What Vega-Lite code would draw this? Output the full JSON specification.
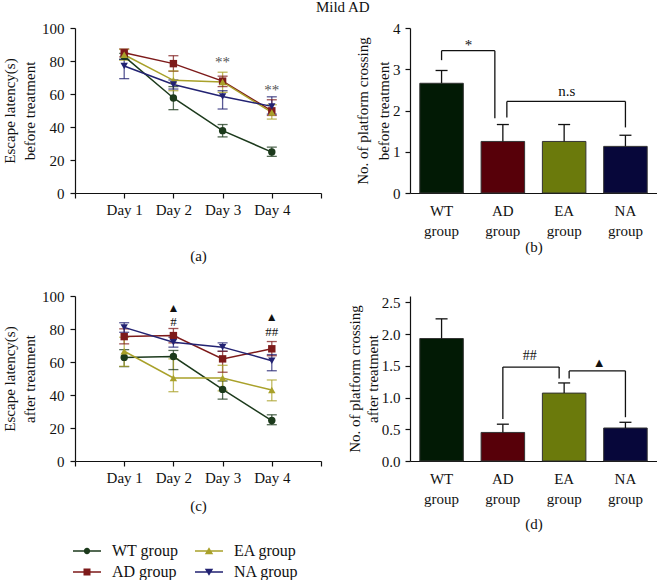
{
"$schema": "https://vega.github.io/schema/vega-lite/v6.json",
"padding": {"left": 2, "top": 0, "right": 0, "bottom": 0},
"title": {"text": "Mild AD", "fontSize": 15, "fontWeight": "normal", "font": "Liberation Serif", "color": "#111", "anchor": "middle", "frame": "bounds", "dx": 13, "offset": 6},
"datasets": {
"before": [
{"group": "WT group", "day": 1, "mean": 82.8, "lo": 81.0, "hi": 84.6},
{"group": "WT group", "day": 2, "mean": 57.6, "lo": 50.5, "hi": 64.5},
{"group": "WT group", "day": 3, "mean": 37.8, "lo": 34.0, "hi": 41.5},
{"group": "WT group", "day": 4, "mean": 24.8, "lo": 22.2, "hi": 27.8},
{"group": "AD group", "day": 1, "mean": 85.0, "lo": 82.5, "hi": 87.3},
{"group": "AD group", "day": 2, "mean": 78.4, "lo": 73.8, "hi": 83.2},
{"group": "AD group", "day": 3, "mean": 67.8, "lo": 64.5, "hi": 70.8},
{"group": "AD group", "day": 4, "mean": 49.8, "lo": 47.0, "hi": 56.5},
{"group": "EA group", "day": 1, "mean": 83.8, "lo": 80.5, "hi": 87.0},
{"group": "EA group", "day": 2, "mean": 68.3, "lo": 62.0, "hi": 74.0},
{"group": "EA group", "day": 3, "mean": 67.3, "lo": 61.0, "hi": 73.2},
{"group": "EA group", "day": 4, "mean": 48.8, "lo": 44.8, "hi": 53.5},
{"group": "NA group", "day": 1, "mean": 77.0, "lo": 69.3, "hi": 81.0},
{"group": "NA group", "day": 2, "mean": 65.8, "lo": 63.0, "hi": 68.5},
{"group": "NA group", "day": 3, "mean": 58.5, "lo": 50.9, "hi": 62.0},
{"group": "NA group", "day": 4, "mean": 52.5, "lo": 47.8, "hi": 58.3}
],
"after": [
{"group": "WT group", "day": 1, "mean": 62.8, "lo": 57.2, "hi": 67.5},
{"group": "WT group", "day": 2, "mean": 63.3, "lo": 55.4, "hi": 67.0},
{"group": "WT group", "day": 3, "mean": 43.4, "lo": 37.5, "hi": 48.5},
{"group": "WT group", "day": 4, "mean": 24.5, "lo": 22.0, "hi": 28.0},
{"group": "AD group", "day": 1, "mean": 75.4, "lo": 71.0, "hi": 80.1},
{"group": "AD group", "day": 2, "mean": 76.0, "lo": 71.6, "hi": 80.3},
{"group": "AD group", "day": 3, "mean": 61.9, "lo": 53.8, "hi": 66.5},
{"group": "AD group", "day": 4, "mean": 68.0, "lo": 63.8, "hi": 72.4},
{"group": "EA group", "day": 1, "mean": 66.5, "lo": 57.4, "hi": 75.0},
{"group": "EA group", "day": 2, "mean": 50.3, "lo": 42.0, "hi": 61.9},
{"group": "EA group", "day": 3, "mean": 50.3, "lo": 42.5, "hi": 58.0},
{"group": "EA group", "day": 4, "mean": 43.0, "lo": 36.5, "hi": 49.1},
{"group": "NA group", "day": 1, "mean": 81.0, "lo": 78.0, "hi": 83.8},
{"group": "NA group", "day": 2, "mean": 72.0, "lo": 69.0, "hi": 75.0},
{"group": "NA group", "day": 3, "mean": 69.0, "lo": 66.5, "hi": 71.6},
{"group": "NA group", "day": 4, "mean": 60.8, "lo": 54.7, "hi": 64.5}
],
"cross_before": [
{"group": "WT group", "mean": 2.66, "hi": 2.97},
{"group": "AD group", "mean": 1.25, "hi": 1.66},
{"group": "EA group", "mean": 1.25, "hi": 1.66},
{"group": "NA group", "mean": 1.13, "hi": 1.40}
],
"cross_after": [
{"group": "WT group", "mean": 1.93, "hi": 2.24},
{"group": "AD group", "mean": 0.45, "hi": 0.58},
{"group": "EA group", "mean": 1.07, "hi": 1.23},
{"group": "NA group", "mean": 0.52, "hi": 0.61}
],
"brk_b": [
{"label": "*", "from": "WT group", "to": "AD group", "top": 3.45, "fromEnd": 3.22, "toEnd": 1.81, "ty": 3.58},
{"label": "n.s", "from": "AD group", "to": "NA group", "top": 2.22, "fromEnd": 1.83, "toEnd": 1.59, "ty": 2.47}
],
"brk_d": [
{"label": "##", "from": "AD group", "to": "EA group", "top": 1.48, "fromEnd": 0.66, "toEnd": 1.30, "ty": 1.65},
{"label": "▲", "from": "EA group", "to": "NA group", "top": 1.42, "fromEnd": 1.30, "toEnd": 0.69, "ty": 1.55}
],
"ann_a": [
{"day": 3, "y": 79.2, "label": "**"},
{"day": 4, "y": 62.6, "label": "**"}
],
"ann_c": [
{"day": 2, "y": 93.0, "label": "▲"},
{"day": 2, "y": 84.0, "label": "#"},
{"day": 4, "y": 87.5, "label": "▲"},
{"day": 4, "y": 78.0, "label": "##"}
]
},
"columns": 2,
"spacing": {"row": 103, "column": 89},
"bounds": "flush",
"resolve": {"scale": {"x": "independent", "y": "independent", "color": "independent", "shape": "independent"}, "axis": {"x": "independent", "y": "independent"}, "legend": {"color": "independent", "shape": "independent"}},
"config": {
"font": "Liberation Serif",
"view": {"stroke": null},
"axis": {"labelFont": "Liberation Serif", "titleFont": "Liberation Serif", "labelFontSize": 15, "titleFontSize": 15, "titleFontWeight": "normal", "labelColor": "#111", "titleColor": "#111", "domainColor": "#111", "tickColor": "#111", "grid": false, "tickSize": 5, "domainWidth": 1.2, "tickWidth": 1.2},
"text": {"font": "Liberation Serif"}
},
"concat": [
{
"width": 246, "height": 165,
"data": {"name": "before"},
"encoding": {
"x": {"field": "day", "type": "quantitative", "scale": {"domain": [0, 5]}, "axis": {"values": [0, 1, 2, 3, 4, 5], "labelExpr": "datum.value >= 1 && datum.value <= 4 ? 'Day ' + datum.value : ''", "title": "(a)", "titlePadding": 31, "labelPadding": 4}},
"color": {"field": "group", "type": "nominal", "scale": {"domain": ["WT group", "AD group", "EA group", "NA group"], "range": ["#1c3a1c", "#7d1a1a", "#a9a12a", "#222272"]}, "legend": null}
},
"layer": [
{"mark": {"type": "rule", "opacity": 0.75, "strokeWidth": 1.3}, "encoding": {"y": {"field": "lo", "type": "quantitative", "scale": {"domain": [0, 100]}, "axis": {"tickCount": 5, "title": ["Escape latency(s)", "before treatment"], "titlePadding": 4, "titleLineHeight": 20, "labelPadding": 6, "labelOverlap": false}}, "y2": {"field": "hi"}}},
{"mark": {"type": "tick", "orient": "horizontal", "size": 10, "thickness": 1.3, "opacity": 0.75}, "encoding": {"y": {"field": "lo", "type": "quantitative"}}},
{"mark": {"type": "tick", "orient": "horizontal", "size": 10, "thickness": 1.3, "opacity": 0.75}, "encoding": {"y": {"field": "hi", "type": "quantitative"}}},
{"mark": {"type": "line", "strokeWidth": 1.5}, "encoding": {"y": {"field": "mean", "type": "quantitative"}}},
{"mark": {"type": "point", "filled": true, "opacity": 1, "size": 55}, "encoding": {"y": {"field": "mean", "type": "quantitative"}, "shape": {"field": "group", "type": "nominal", "scale": {"domain": ["WT group", "AD group", "EA group", "NA group"], "range": ["circle", "square", "triangle-up", "triangle-down"]}, "legend": null}}},
{"data": {"name": "ann_a"}, "mark": {"type": "text", "fontSize": 15, "baseline": "middle"}, "encoding": {"x": {"field": "day", "type": "quantitative"}, "y": {"field": "y", "type": "quantitative"}, "text": {"field": "label"}, "color": {"value": "#555"}}}
]
},
{
"width": 247, "height": 165,
"layer": [
{"data": {"name": "cross_before"}, "layer": [
{"mark": {"type": "bar", "stroke": "#333", "strokeWidth": 1}, "encoding": {
"x": {"field": "group", "type": "nominal", "scale": {"domain": ["WT group", "AD group", "EA group", "NA group"], "paddingInner": 0.29, "paddingOuter": 0.16}, "axis": {"title": "(b)", "labelExpr": "split(datum.label, ' ')", "ticks": false, "tickSize": 0, "labelAngle": 0, "labelLineHeight": 20, "labelPadding": 10, "titlePadding": 1}},
"y": {"field": "mean", "type": "quantitative", "scale": {"domain": [0, 4]}, "axis": {"tickCount": 4, "title": ["No. of platform crossing", "before treatment"], "titlePadding": 1, "titleLineHeight": 21, "labelPadding": 5, "labelOverlap": false}},
"color": {"field": "group", "type": "nominal", "scale": {"domain": ["WT group", "AD group", "EA group", "NA group"], "range": ["#021a05", "#570009", "#6b7a0c", "#07073a"]}, "legend": null}}},
{"mark": {"type": "rule", "color": "#111", "strokeWidth": 1.3}, "encoding": {"x": {"field": "group", "type": "nominal", "bandPosition": 0.5}, "y": {"field": "mean", "type": "quantitative"}, "y2": {"field": "hi"}}},
{"mark": {"type": "tick", "orient": "horizontal", "size": 12, "thickness": 1.3, "color": "#111", "opacity": 1}, "encoding": {"x": {"field": "group", "type": "nominal", "bandPosition": 0.5}, "y": {"field": "hi", "type": "quantitative"}}}
]},
{"data": {"name": "brk_b"}, "transform": [{"filter": "datum.label == '*'"}], "layer": [
{"mark": {"type": "rule", "color": "#111", "strokeWidth": 1.3, "x2Offset": -8}, "encoding": {"x": {"field": "from", "type": "nominal", "bandPosition": 0.5}, "x2": {"field": "to", "bandPosition": 0.5}, "y": {"field": "top", "type": "quantitative"}}},
{"mark": {"type": "rule", "color": "#111", "strokeWidth": 1.3}, "encoding": {"x": {"field": "from", "type": "nominal", "bandPosition": 0.5}, "y": {"field": "top", "type": "quantitative"}, "y2": {"field": "fromEnd"}}},
{"mark": {"type": "rule", "color": "#111", "strokeWidth": 1.3, "xOffset": -8}, "encoding": {"x": {"field": "to", "type": "nominal", "bandPosition": 0.5}, "y": {"field": "top", "type": "quantitative"}, "y2": {"field": "toEnd"}}},
{"mark": {"type": "text", "fontSize": 15, "color": "#111", "baseline": "middle", "xOffset": 27}, "encoding": {"x": {"field": "from", "type": "nominal", "bandPosition": 0.5}, "y": {"field": "ty", "type": "quantitative"}, "text": {"field": "label"}}}
]},
{"data": {"name": "brk_b"}, "transform": [{"filter": "datum.label == 'n.s'"}], "layer": [
{"mark": {"type": "rule", "color": "#111", "strokeWidth": 1.3, "xOffset": 4}, "encoding": {"x": {"field": "from", "type": "nominal", "bandPosition": 0.5}, "x2": {"field": "to", "bandPosition": 0.5}, "y": {"field": "top", "type": "quantitative"}}},
{"mark": {"type": "rule", "color": "#111", "strokeWidth": 1.3, "xOffset": 4}, "encoding": {"x": {"field": "from", "type": "nominal", "bandPosition": 0.5}, "y": {"field": "top", "type": "quantitative"}, "y2": {"field": "fromEnd"}}},
{"mark": {"type": "rule", "color": "#111", "strokeWidth": 1.3}, "encoding": {"x": {"field": "to", "type": "nominal", "bandPosition": 0.5}, "y": {"field": "top", "type": "quantitative"}, "y2": {"field": "toEnd"}}},
{"mark": {"type": "text", "fontSize": 15, "color": "#111", "baseline": "middle", "xOffset": 64}, "encoding": {"x": {"field": "from", "type": "nominal", "bandPosition": 0.5}, "y": {"field": "ty", "type": "quantitative"}, "text": {"field": "label"}}}
]}
]
},
{
"width": 246, "height": 165,
"data": {"name": "after"},
"encoding": {
"x": {"field": "day", "type": "quantitative", "scale": {"domain": [0, 5]}, "axis": {"values": [0, 1, 2, 3, 4, 5], "labelExpr": "datum.value >= 1 && datum.value <= 4 ? 'Day ' + datum.value : ''", "title": "(c)", "titlePadding": 13, "labelPadding": 4}},
"color": {"field": "group", "type": "nominal", "scale": {"domain": ["WT group", "AD group", "EA group", "NA group"], "range": ["#1c3a1c", "#7d1a1a", "#a9a12a", "#222272"]},
"legend": {"orient": "none", "legendX": 4, "legendY": 247, "columns": 2, "title": null, "labelFont": "Liberation Serif", "labelFontSize": 16, "labelColor": "#111", "symbolSize": 196, "labelOffset": 17, "columnPadding": 16, "rowPadding": 5, "padding": 0, "symbolOpacity": 1, "symbolStrokeWidth": 0}}
},
"layer": [
{"mark": {"type": "rule", "opacity": 0.75, "strokeWidth": 1.3}, "encoding": {"y": {"field": "lo", "type": "quantitative", "scale": {"domain": [0, 100]}, "axis": {"tickCount": 5, "title": ["Escape latency(s)", "after treatment"], "titlePadding": 4, "titleLineHeight": 20, "labelPadding": 6, "labelOverlap": false}}, "y2": {"field": "hi"}}},
{"mark": {"type": "tick", "orient": "horizontal", "size": 10, "thickness": 1.3, "opacity": 0.75}, "encoding": {"y": {"field": "lo", "type": "quantitative"}}},
{"mark": {"type": "tick", "orient": "horizontal", "size": 10, "thickness": 1.3, "opacity": 0.75}, "encoding": {"y": {"field": "hi", "type": "quantitative"}}},
{"mark": {"type": "line", "strokeWidth": 1.5}, "encoding": {"y": {"field": "mean", "type": "quantitative"}}},
{"transform": [{"filter": "datum.group == 'WT group'"}], "mark": {"type": "point", "shape": "circle", "filled": true, "opacity": 1, "size": 55}, "encoding": {"y": {"field": "mean", "type": "quantitative"}}},
{"transform": [{"filter": "datum.group == 'AD group'"}], "mark": {"type": "point", "shape": "square", "filled": true, "opacity": 1, "size": 55}, "encoding": {"y": {"field": "mean", "type": "quantitative"}}},
{"transform": [{"filter": "datum.group == 'EA group'"}], "mark": {"type": "point", "shape": "triangle-up", "filled": true, "opacity": 1, "size": 55}, "encoding": {"y": {"field": "mean", "type": "quantitative"}}},
{"transform": [{"filter": "datum.group == 'NA group'"}], "mark": {"type": "point", "shape": "triangle-down", "filled": true, "opacity": 1, "size": 55}, "encoding": {"y": {"field": "mean", "type": "quantitative"}}},
{"mark": {"type": "point", "filled": true, "opacity": 0, "size": 55}, "encoding": {"y": {"field": "mean", "type": "quantitative"}, "shape": {"field": "group", "type": "nominal", "scale": {"domain": ["WT group", "AD group", "EA group", "NA group"], "range": ["M-2,-0.1H2V0.1H-2ZM0.45,0A0.45,0.45,0,1,1,-0.45,0A0.45,0.45,0,1,1,0.45,0Z", "M-2,-0.1H2V0.1H-2ZM-0.5,-0.5H0.5V0.5H-0.5Z", "M-2,-0.1H2V0.1H-2ZM0,-0.55L0.6,0.45H-0.6Z", "M-2,-0.1H2V0.1H-2ZM0,0.55L-0.6,-0.45H0.6Z"]},
"legend": {"orient": "none", "legendX": 4, "legendY": 247, "columns": 2, "title": null, "labelFont": "Liberation Serif", "labelFontSize": 16, "labelColor": "#111", "symbolSize": 196, "labelOffset": 17, "columnPadding": 16, "rowPadding": 5, "padding": 0, "symbolOpacity": 1, "symbolStrokeWidth": 0}}}},
{"data": {"name": "ann_c"}, "transform": [{"filter": "datum.label == '▲'"}], "mark": {"type": "text", "fontSize": 12, "baseline": "middle"}, "encoding": {"x": {"field": "day", "type": "quantitative"}, "y": {"field": "y", "type": "quantitative"}, "text": {"field": "label"}, "color": {"value": "#111"}}},
{"data": {"name": "ann_c"}, "transform": [{"filter": "datum.label != '▲'"}], "mark": {"type": "text", "fontSize": 13, "baseline": "middle"}, "encoding": {"x": {"field": "day", "type": "quantitative"}, "y": {"field": "y", "type": "quantitative"}, "text": {"field": "label"}, "color": {"value": "#111"}}}
]
},
{
"width": 247, "height": 165,
"layer": [
{"data": {"name": "cross_after"}, "layer": [
{"mark": {"type": "bar", "stroke": "#333", "strokeWidth": 1}, "encoding": {
"x": {"field": "group", "type": "nominal", "scale": {"domain": ["WT group", "AD group", "EA group", "NA group"], "paddingInner": 0.29, "paddingOuter": 0.16}, "axis": {"title": "(d)", "labelExpr": "split(datum.label, ' ')", "ticks": false, "tickSize": 0, "labelAngle": 0, "labelLineHeight": 20, "labelPadding": 10, "titlePadding": 10}},
"y": {"field": "mean", "type": "quantitative", "scale": {"domain": [0, 2.5]}, "axis": {"tickCount": 5, "format": ".1f", "title": ["No. of platform crossing", "after treatment"], "titlePadding": 1, "titleLineHeight": 18, "labelPadding": 5, "labelOverlap": false}},
"color": {"field": "group", "type": "nominal", "scale": {"domain": ["WT group", "AD group", "EA group", "NA group"], "range": ["#021a05", "#570009", "#6b7a0c", "#07073a"]}, "legend": null}}},
{"mark": {"type": "rule", "color": "#111", "strokeWidth": 1.3}, "encoding": {"x": {"field": "group", "type": "nominal", "bandPosition": 0.5}, "y": {"field": "mean", "type": "quantitative"}, "y2": {"field": "hi"}}},
{"mark": {"type": "tick", "orient": "horizontal", "size": 12, "thickness": 1.3, "color": "#111", "opacity": 1}, "encoding": {"x": {"field": "group", "type": "nominal", "bandPosition": 0.5}, "y": {"field": "hi", "type": "quantitative"}}}
]},
{"data": {"name": "brk_d"}, "transform": [{"filter": "datum.label == '##'"}], "layer": [
{"mark": {"type": "rule", "color": "#111", "strokeWidth": 1.3, "x2Offset": -5}, "encoding": {"x": {"field": "from", "type": "nominal", "bandPosition": 0.5}, "x2": {"field": "to", "bandPosition": 0.5}, "y": {"field": "top", "type": "quantitative"}}},
{"mark": {"type": "rule", "color": "#111", "strokeWidth": 1.3}, "encoding": {"x": {"field": "from", "type": "nominal", "bandPosition": 0.5}, "y": {"field": "top", "type": "quantitative"}, "y2": {"field": "fromEnd"}}},
{"mark": {"type": "rule", "color": "#111", "strokeWidth": 1.3, "xOffset": -5}, "encoding": {"x": {"field": "to", "type": "nominal", "bandPosition": 0.5}, "y": {"field": "top", "type": "quantitative"}, "y2": {"field": "toEnd"}}},
{"mark": {"type": "text", "fontSize": 14, "color": "#111", "baseline": "middle", "xOffset": 27}, "encoding": {"x": {"field": "from", "type": "nominal", "bandPosition": 0.5}, "y": {"field": "ty", "type": "quantitative"}, "text": {"field": "label"}}}
]},
{"data": {"name": "brk_d"}, "transform": [{"filter": "datum.label == '▲'"}], "layer": [
{"mark": {"type": "rule", "color": "#111", "strokeWidth": 1.3, "xOffset": 5}, "encoding": {"x": {"field": "from", "type": "nominal", "bandPosition": 0.5}, "x2": {"field": "to", "bandPosition": 0.5}, "y": {"field": "top", "type": "quantitative"}}},
{"mark": {"type": "rule", "color": "#111", "strokeWidth": 1.3, "xOffset": 5}, "encoding": {"x": {"field": "from", "type": "nominal", "bandPosition": 0.5}, "y": {"field": "top", "type": "quantitative"}, "y2": {"field": "fromEnd"}}},
{"mark": {"type": "rule", "color": "#111", "strokeWidth": 1.3}, "encoding": {"x": {"field": "to", "type": "nominal", "bandPosition": 0.5}, "y": {"field": "top", "type": "quantitative"}, "y2": {"field": "toEnd"}}},
{"mark": {"type": "text", "fontSize": 13, "color": "#111", "baseline": "middle", "xOffset": 35}, "encoding": {"x": {"field": "from", "type": "nominal", "bandPosition": 0.5}, "y": {"field": "ty", "type": "quantitative"}, "text": {"field": "label"}}}
]}
]
}
]
}
